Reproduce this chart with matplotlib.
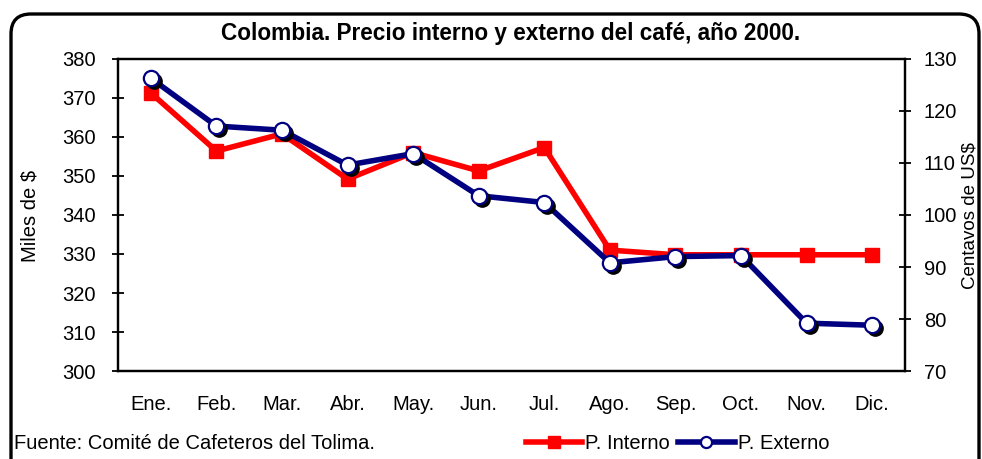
import numpy as np
import matplotlib
matplotlib.use('Agg')
import matplotlib.pyplot as plt
from matplotlib.patches import FancyBboxPatch
from matplotlib.transforms import IdentityTransform, offset_copy
from matplotlib.lines import Line2D

plt.rcParams['font.family'] = ['Liberation Sans', 'DejaVu Sans']

# Data
meses = ['Ene.', 'Feb.', 'Mar.', 'Abr.', 'May.', 'Jun.', 'Jul.', 'Ago.', 'Sep.', 'Oct.', 'Nov.', 'Dic.']
p_interno = [371.3, 356.4, 360.8, 349.2, 356.0, 351.3, 357.3, 331.0, 329.8, 329.8, 329.8, 329.8]  # miles de $
p_externo = [126.3, 117.1, 116.3, 109.6, 111.8, 103.7, 102.4, 90.8, 92.0, 92.2, 79.2, 78.8]        # centavos de US$

fs = 14.5

fig = plt.figure(figsize=(9.82, 4.59), dpi=100)
ax = fig.add_axes([0.1202, 0.1917, 0.8014, 0.6798])
ax2 = ax.twinx()

x = np.arange(len(meses))

# red line: internal price
ax.plot(x, p_interno, color='#ff0000', lw=4, marker='s', ms=10,
        mfc='#ff0000', mec='#ff0000', solid_joinstyle='round', zorder=3)

# blue line: external price, markers with a black drop shadow
ax2.plot(x, p_externo, color='#000080', lw=4, solid_joinstyle='round', zorder=2)
shadow = offset_copy(ax2.transData, fig=fig, x=3, y=-3, units='dots')
ax2.plot(x, p_externo, ls='none', marker='o', ms=11, mfc='black', mec='black',
         transform=shadow, zorder=3)
ax2.plot(x, p_externo, ls='none', marker='o', ms=11, mfc='white', mec='#000080',
         mew=1.6, zorder=4)

ax.set_xlim(-0.5, 11.5)
ax.set_ylim(300, 380)
ax.set_yticks(np.arange(300, 381, 10))
ax2.set_ylim(70, 130)
ax2.set_yticks(np.arange(70, 131, 10))
ax.set_xticks(x)
ax.set_xticklabels(meses)

for a in (ax, ax2):
    for s in a.spines.values():
        s.set_linewidth(1.6)
ax.tick_params(axis='x', length=0, pad=17.5, labelsize=fs)
ax.tick_params(axis='y', direction='inout', length=9, width=1.3, pad=11.5, labelsize=fs)
ax2.tick_params(axis='y', direction='inout', length=9, width=1.3, pad=9, labelsize=fs)

fig.text(30 / 982, 0.53, 'Miles de $', rotation=90, fontsize=fs, ha='center', va='center')
fig.text(970 / 982, 0.53, 'Centavos de US$', rotation=90, fontsize=13.5,
         ha='center', va='center')

fig.text(0.52, 0.928, 'Colombia. Precio interno y externo del café, año 2000.',
         fontsize=16.3, fontweight='bold', ha='center', va='center')
fig.text(0.014, 0.033, 'Fuente: Comité de Cafeteros del Tolima.', fontsize=fs,
         ha='left', va='center')

handles = [
    Line2D([], [], color='#ff0000', lw=4, marker='s', ms=9, mfc='#ff0000', mec='#ff0000'),
    Line2D([], [], color='#000080', lw=4, marker='o', ms=8, mfc='white', mec='#000080', mew=1.6),
]
fig.legend(handles, ['P. Interno', 'P. Externo'], loc='center', ncol=2,
           bbox_to_anchor=(0.69, 0.033), frameon=False, fontsize=fs,
           handlelength=2.8, handletextpad=0.15, columnspacing=0.4,
           borderpad=0, borderaxespad=0)

# rounded border around the chart area
frame = FancyBboxPatch((11, -40), 968, 485, boxstyle='round,pad=0,rounding_size=20',
                       transform=IdentityTransform(), fill=False, ec='black', lw=2.4)
fig.patches.append(frame)

fig.savefig('out.png', dpi=100)
